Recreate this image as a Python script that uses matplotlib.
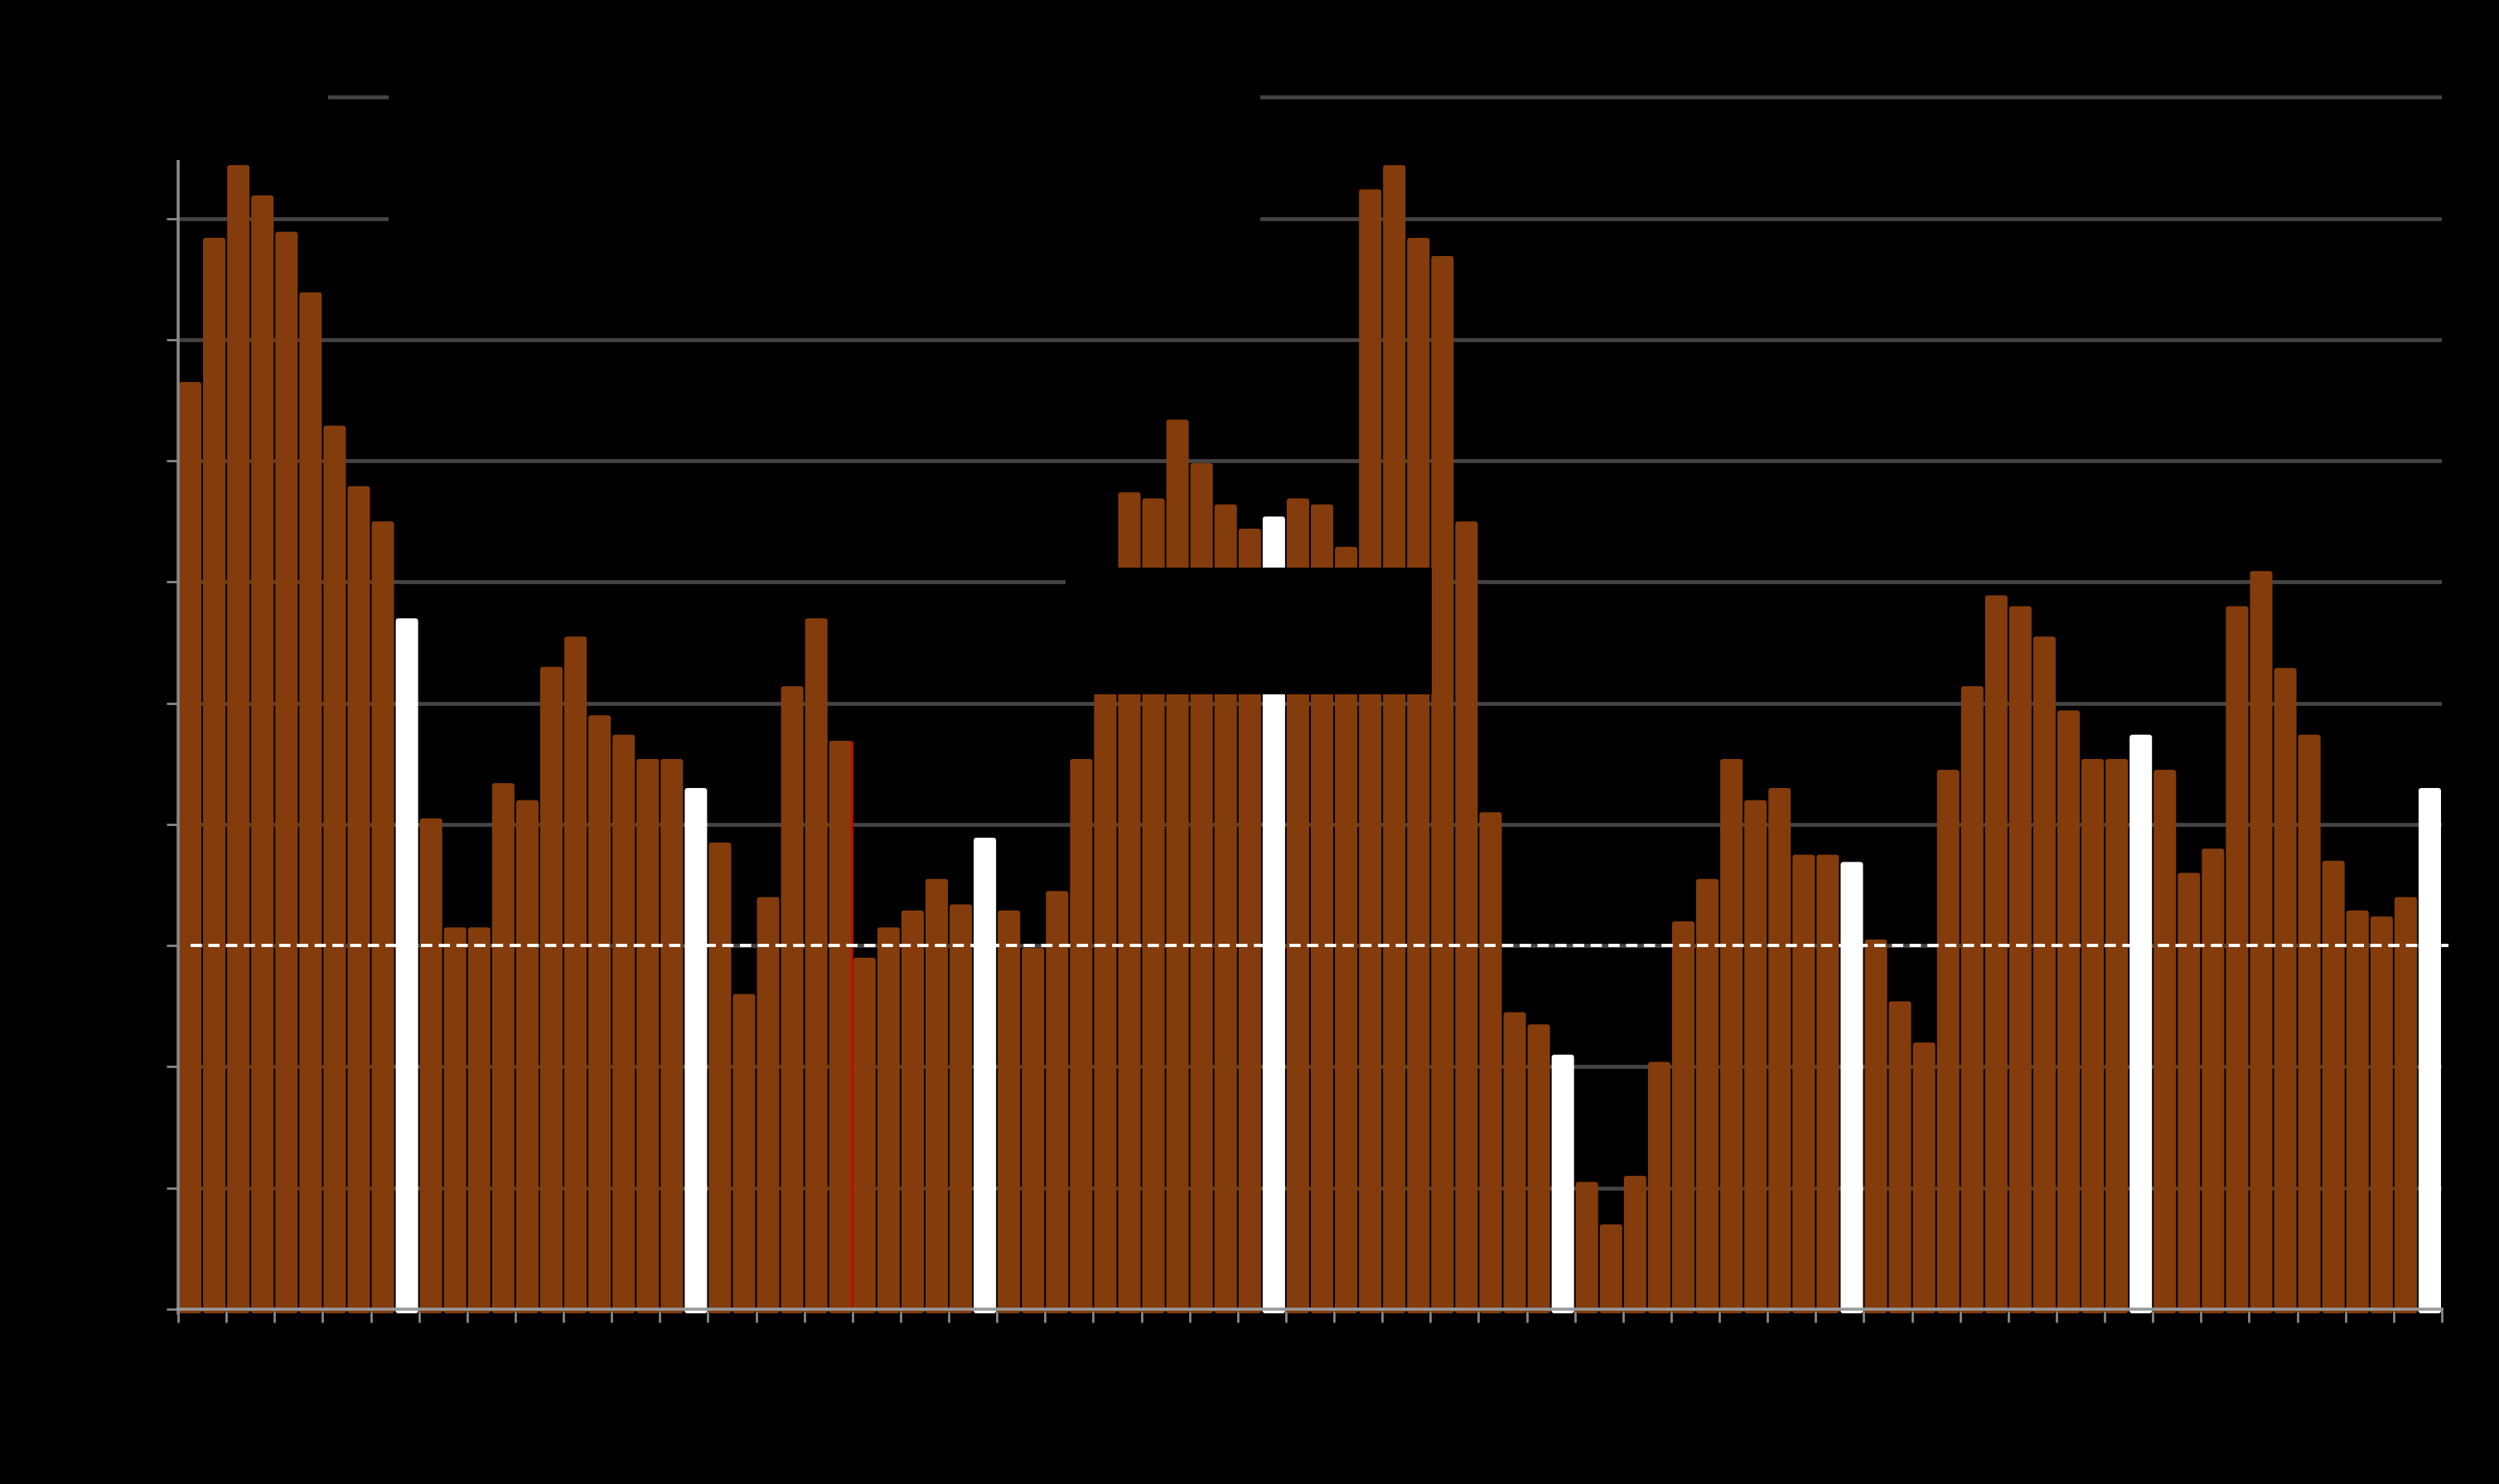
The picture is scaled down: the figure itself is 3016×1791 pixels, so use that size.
import numpy as np
import matplotlib
matplotlib.use("Agg")
from matplotlib import pyplot as plt
from matplotlib.patches import FancyBboxPatch, Rectangle

# monthly values (94 bars)
values = [7.65, 8.84, 9.44, 9.19, 8.89, 8.39, 7.29, 6.79, 6.50, 5.70,
          4.05, 3.15, 3.15, 4.34, 4.20, 5.30, 5.55, 4.90, 4.74, 4.54,
          4.54, 4.30, 3.85, 2.60, 3.40, 5.14, 5.70, 4.69, 2.90, 3.15,
          3.29, 3.55, 3.34, 3.89, 3.29, 2.98, 3.45, 4.54, 5.60, 6.74,
          6.69, 7.34, 6.98, 6.64, 6.44, 6.54, 6.69, 6.64, 6.29, 9.24,
          9.44, 8.84, 8.69, 6.50, 4.10, 2.45, 2.35, 2.10, 1.05, 0.70,
          1.10, 2.04, 3.20, 3.55, 4.54, 4.20, 4.30, 3.75, 3.75, 3.69,
          3.05, 2.54, 2.20, 4.45, 5.14, 5.89, 5.80, 5.55, 4.94, 4.54,
          4.54, 4.74, 4.45, 3.60, 3.80, 5.80, 6.09, 5.29, 4.74, 3.70,
          3.29, 3.24, 3.40, 4.30]
highlight = [9, 21, 33, 45, 57, 69, 81, 93]   # white bars
reference_level = 3.0
marker_bar = 27                                # red line on right edge of this bar
yticks = list(range(0, 11))

brown = "#843C0C"
x = np.arange(len(values))
colors = ["white" if i in highlight else brown for i in x]

W, H, DPI = 3016, 1791, 200
fig = plt.figure(figsize=(W / DPI, H / DPI), dpi=DPI, facecolor="black")

y0 = -0.035
ylim_top = 10.05
ax = fig.add_axes([215 / W, 1 - 1585.1 / H, 2732 / W, 1475.1 / H])
ax.set_facecolor("black")
ax.set_xlim(-0.5, len(values) - 0.5)
ax.set_ylim(y0, ylim_top)
ax.set_axisbelow(True)

# bars, then swap for rounded ones
bars = ax.bar(x, values, width=0.93, color=colors, linewidth=0)
aspect = (1 / 146.26) / (1 / 29.06)
for b in bars:
    bx, by = b.get_x(), b.get_y()
    p = FancyBboxPatch((bx, y0), b.get_width(), b.get_height() - y0,
                       boxstyle="round,pad=0,rounding_size=0.12",
                       mutation_aspect=aspect, facecolor=b.get_facecolor(),
                       linewidth=0, zorder=1)
    ax.add_patch(p)
    b.remove()

ax.vlines(marker_bar + 0.465, 0, values[marker_bar], color="#e00000", lw=0.9, zorder=2)

ax.axhline(reference_level, xmin=0.0055, xmax=1.003, color="white", lw=1.4,
           linestyle=(0, (3.5, 2)), zorder=3, clip_on=False)

ax.set_yticks(yticks)
ax.set_yticklabels([str(t) for t in yticks], color="black")
ax.set_xticks(np.arange(-0.5, len(values), 2))
ax.set_xticklabels([])
ax.grid(axis="y", color="#444444", lw=1.7)
ax.tick_params(axis="y", colors="#888888", length=5, width=1.0, labelcolor="black")
ax.tick_params(axis="x", colors="#888888", length=5.8, width=1.0)

for s in ["top", "right"]:
    ax.spines[s].set_visible(False)
ax.spines["left"].set_color("#888888")
ax.spines["left"].set_linewidth(1.3)
ax.spines["bottom"].set_color("#999999")
ax.spines["bottom"].set_linewidth(1.3)
ax.spines["bottom"].set_position(("data", 0))

# black boxes that sit over the plot (title / legend / note areas)
boxes = [(150, 60, 396, 193), (469, 30, 1521, 322), (1286, 685, 1728, 838)]
for x0, yt, x1, yb in boxes:
    fig.add_artist(Rectangle((x0 / W, 1 - yb / H), (x1 - x0) / W, (yb - yt) / H,
                             transform=fig.transFigure, facecolor="black",
                             edgecolor="none", zorder=5))

fig.savefig("out.png", dpi=DPI, facecolor="black")
